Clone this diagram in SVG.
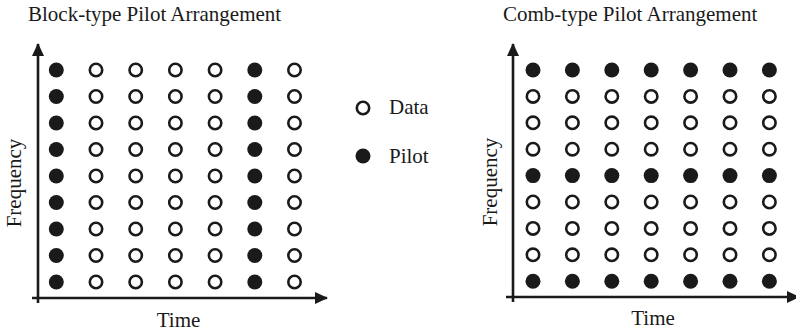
<svg xmlns="http://www.w3.org/2000/svg" xmlns:xlink="http://www.w3.org/1999/xlink" width="796" height="334" viewBox="0 0 796 334">
  <style>
    text { font-family: "Liberation Serif", "Times New Roman", serif; font-size: 21px; fill: #1a1a1a; }
    .axis { stroke: #1a1a1a; stroke-width: 2.6; fill: none; }
    .data { fill: #fff; stroke: #1a1a1a; stroke-width: 2.6; }
    .pilot { fill: #1a1a1a; }
  </style>
  <defs>
    <circle id="d" r="6.2" class="data"/>
    <circle id="p" r="7.5" class="pilot"/>
    <marker id="arrow" viewBox="0 0 13 12" refX="12" refY="6" markerWidth="13" markerHeight="12" markerUnits="userSpaceOnUse" orient="auto">
      <path d="M0,0 L13,6 L0,12 Z" fill="#1a1a1a"/>
    </marker>
  </defs>
  <rect width="796" height="334" fill="#fff"/>

  <!-- Block-type panel: pilots fill whole columns 1 and 6 -->
  <g id="block-panel">
    <text x="28" y="21">Block-type Pilot Arrangement</text>
    <g id="block-axes">
      <path class="axis" d="M38,303 V44" marker-end="url(#arrow)"/>
      <path class="axis" d="M32,298 H327" marker-end="url(#arrow)"/>
    </g>
    <text x="178.5" y="327" text-anchor="middle">Time</text>
    <text transform="translate(21,183) rotate(-90)" text-anchor="middle">Frequency</text>
    <g id="block-grid">
      <!-- columns: 56.3 96 135.7 175.4 215.1 254.8 294.5 ; rows every 26.5 from 70 -->
      <g transform="translate(0,70)">
        <use href="#p" x="56.3"/><use href="#d" x="96"/><use href="#d" x="135.7"/><use href="#d" x="175.4"/><use href="#d" x="215.1"/><use href="#p" x="254.8"/><use href="#d" x="294.5"/>
      </g>
      <g transform="translate(0,96.5)">
        <use href="#p" x="56.3"/><use href="#d" x="96"/><use href="#d" x="135.7"/><use href="#d" x="175.4"/><use href="#d" x="215.1"/><use href="#p" x="254.8"/><use href="#d" x="294.5"/>
      </g>
      <g transform="translate(0,123)">
        <use href="#p" x="56.3"/><use href="#d" x="96"/><use href="#d" x="135.7"/><use href="#d" x="175.4"/><use href="#d" x="215.1"/><use href="#p" x="254.8"/><use href="#d" x="294.5"/>
      </g>
      <g transform="translate(0,149.5)">
        <use href="#p" x="56.3"/><use href="#d" x="96"/><use href="#d" x="135.7"/><use href="#d" x="175.4"/><use href="#d" x="215.1"/><use href="#p" x="254.8"/><use href="#d" x="294.5"/>
      </g>
      <g transform="translate(0,176)">
        <use href="#p" x="56.3"/><use href="#d" x="96"/><use href="#d" x="135.7"/><use href="#d" x="175.4"/><use href="#d" x="215.1"/><use href="#p" x="254.8"/><use href="#d" x="294.5"/>
      </g>
      <g transform="translate(0,202.5)">
        <use href="#p" x="56.3"/><use href="#d" x="96"/><use href="#d" x="135.7"/><use href="#d" x="175.4"/><use href="#d" x="215.1"/><use href="#p" x="254.8"/><use href="#d" x="294.5"/>
      </g>
      <g transform="translate(0,229)">
        <use href="#p" x="56.3"/><use href="#d" x="96"/><use href="#d" x="135.7"/><use href="#d" x="175.4"/><use href="#d" x="215.1"/><use href="#p" x="254.8"/><use href="#d" x="294.5"/>
      </g>
      <g transform="translate(0,255.5)">
        <use href="#p" x="56.3"/><use href="#d" x="96"/><use href="#d" x="135.7"/><use href="#d" x="175.4"/><use href="#d" x="215.1"/><use href="#p" x="254.8"/><use href="#d" x="294.5"/>
      </g>
      <g transform="translate(0,282)">
        <use href="#p" x="56.3"/><use href="#d" x="96"/><use href="#d" x="135.7"/><use href="#d" x="175.4"/><use href="#d" x="215.1"/><use href="#p" x="254.8"/><use href="#d" x="294.5"/>
      </g>
    </g>
  </g>

  <!-- Legend -->
  <g id="legend">
    <use href="#d" x="363" y="108"/>
    <text x="389" y="114">Data</text>
    <use href="#p" x="363" y="156"/>
    <text x="389" y="163">Pilot</text>
  </g>

  <!-- Comb-type panel: pilots fill whole rows 1, 5 and 9 -->
  <g id="comb-panel">
    <text x="503" y="21">Comb-type Pilot Arrangement</text>
    <g id="comb-axes">
      <path class="axis" d="M513,302 V44" marker-end="url(#arrow)"/>
      <path class="axis" d="M506,297 H799" marker-end="url(#arrow)"/>
    </g>
    <text x="653" y="325" text-anchor="middle">Time</text>
    <text transform="translate(497,182) rotate(-90)" text-anchor="middle">Frequency</text>
    <g id="comb-grid">
      <!-- columns: 533 572.4 611.8 651.2 690.6 730 769.4 ; rows every 26.4 from 70 -->
      <g transform="translate(0,70)">
        <use href="#p" x="533"/><use href="#p" x="572.4"/><use href="#p" x="611.8"/><use href="#p" x="651.2"/><use href="#p" x="690.6"/><use href="#p" x="730"/><use href="#p" x="769.4"/>
      </g>
      <g transform="translate(0,96.4)">
        <use href="#d" x="533"/><use href="#d" x="572.4"/><use href="#d" x="611.8"/><use href="#d" x="651.2"/><use href="#d" x="690.6"/><use href="#d" x="730"/><use href="#d" x="769.4"/>
      </g>
      <g transform="translate(0,122.8)">
        <use href="#d" x="533"/><use href="#d" x="572.4"/><use href="#d" x="611.8"/><use href="#d" x="651.2"/><use href="#d" x="690.6"/><use href="#d" x="730"/><use href="#d" x="769.4"/>
      </g>
      <g transform="translate(0,149.2)">
        <use href="#d" x="533"/><use href="#d" x="572.4"/><use href="#d" x="611.8"/><use href="#d" x="651.2"/><use href="#d" x="690.6"/><use href="#d" x="730"/><use href="#d" x="769.4"/>
      </g>
      <g transform="translate(0,175.6)">
        <use href="#p" x="533"/><use href="#p" x="572.4"/><use href="#p" x="611.8"/><use href="#p" x="651.2"/><use href="#p" x="690.6"/><use href="#p" x="730"/><use href="#p" x="769.4"/>
      </g>
      <g transform="translate(0,202)">
        <use href="#d" x="533"/><use href="#d" x="572.4"/><use href="#d" x="611.8"/><use href="#d" x="651.2"/><use href="#d" x="690.6"/><use href="#d" x="730"/><use href="#d" x="769.4"/>
      </g>
      <g transform="translate(0,228.4)">
        <use href="#d" x="533"/><use href="#d" x="572.4"/><use href="#d" x="611.8"/><use href="#d" x="651.2"/><use href="#d" x="690.6"/><use href="#d" x="730"/><use href="#d" x="769.4"/>
      </g>
      <g transform="translate(0,254.8)">
        <use href="#d" x="533"/><use href="#d" x="572.4"/><use href="#d" x="611.8"/><use href="#d" x="651.2"/><use href="#d" x="690.6"/><use href="#d" x="730"/><use href="#d" x="769.4"/>
      </g>
      <g transform="translate(0,281.2)">
        <use href="#p" x="533"/><use href="#p" x="572.4"/><use href="#p" x="611.8"/><use href="#p" x="651.2"/><use href="#p" x="690.6"/><use href="#p" x="730"/><use href="#p" x="769.4"/>
      </g>
    </g>
  </g>
</svg>
